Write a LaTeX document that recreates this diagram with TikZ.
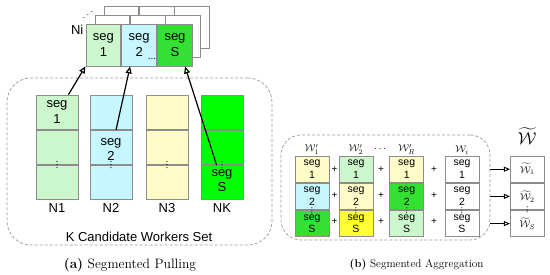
\documentclass[tikz,border=0pt]{standalone}
\usepackage{fontspec}
\setsansfont{Liberation Sans}
\usepackage{amsmath,amssymb}
\usetikzlibrary{positioning, calc, arrows.meta}

\definecolor{seglime}{HTML}{CCF7CC}
\definecolor{segcyan}{HTML}{C6F6FF}
\definecolor{segcream}{HTML}{FFFCC8}
\definecolor{seggreen}{HTML}{33E033}
\definecolor{segneon}{HTML}{00FF00}
\definecolor{segyellow}{HTML}{FFFF33}
\definecolor{cellgray}{HTML}{8C8C8C}

\tikzset{
  cell/.style={draw=cellgray, line width=0.9pt, inner sep=0pt, align=center,
    font=\sffamily\fontsize{13}{15.5}\selectfont},
  workcell/.style={cell, minimum width=42pt, minimum height=34.3pt},
  nicell/.style={cell, minimum width=34.9pt, minimum height=42pt},
  aggcell/.style={cell, minimum width=34pt, minimum height=26.3pt,
    font=\sffamily\fontsize{10.5}{12.5}\selectfont},
  celltext/.style={inner sep=0pt, align=center, font=\sffamily\fontsize{13}{15.5}\selectfont},
  vdotsmark/.style={inner sep=0pt, rotate=90, font=\sffamily\fontsize{10}{10}\selectfont},
  pull/.style={line width=1.2pt, -{Triangle[open, length=7pt, width=6pt]}},
  feed/.style={line width=0.9pt, -{Triangle[open, length=6pt, width=5pt]}},
  setbox/.style={draw=gray!80, dash pattern=on 3pt off 2pt, line width=0.7pt},
}

\begin{document}
\begin{tikzpicture}[x=1pt, y=-1pt]
    \useasboundingbox (0,0) rectangle (550,275);

    % Dashed set around the candidate workers
    \node[setbox, rounded corners=24pt, minimum width=265pt, minimum height=167pt] (workerset) at (139.5,161.5) {};

    % Stack of segmented models behind Ni
    \foreach \d in {18,9} {
        \foreach \x [count=\i] in {103.4,138.8,173.7}
            \node[nicell, fill=white] (back\d-\i) at (\x+\d,45-\d) {};
    }

    % Front model Ni with its segments
    \node[nicell, fill=seglime] (ni1) at (103.4,45) {seg\\1};
    \node[nicell, fill=segcyan, right=0pt of ni1] (ni2) {seg\\2};
    \node[nicell, fill=seggreen, right=0pt of ni2] (ni3) {seg\\S};
    \node[inner sep=0pt, font=\sffamily\fontsize{10}{10}\selectfont] (nidots) at (152,59) {...};
    \node[anchor=north east, inner sep=1pt, font=\sffamily\fontsize{13}{15}\selectfont] (nilabel) at ([xshift=-1pt]ni1.north west) {Ni};
    \node[inner sep=0pt] (stackdots) at (88,12) {\reflectbox{$\ddots$}};

    % Candidate workers N1 ... NK, three segments each
    \foreach \col/\x/\clr/\lbl in {n1/57/seglime/N1, n2/111/segcyan/N2, n3/167/segcream/N3, nk/222/segneon/NK} {
        \node[workcell, fill=\clr] (\col-a) at (\x,112.2) {};
        \node[workcell, fill=\clr, below=0pt of \col-a] (\col-b) {};
        \node[workcell, fill=\clr, below=0pt of \col-b] (\col-c) {};
        \node[below=2pt of \col-c, inner sep=1pt, font=\sffamily\fontsize{13}{15}\selectfont] (\col-lbl) {\lbl};
        \node[vdotsmark] (\col-dots) at (\col-c.north) {...};
    }
    \node[celltext] (n1text) at (n1-a) {seg\\1};
    \node[celltext] (n2text) at ([yshift=-2pt]n2-b) {seg\\2};
    \node[celltext] (nktext) at ([yshift=2pt]nk-c) {seg\\S};

    % Pulling the segments up into Ni
    \draw[pull] (n1-a.57) -- (ni1.230);
    \draw[pull] (n2-b.74) -- (ni2.247);
    \draw[pull] (nk-c.107) -- (ni3.295);

    \node[font=\sffamily\fontsize{13}{15}\selectfont] (setlabel) at (139,237) {K Candidate Workers Set};
    \node[font=\fontsize{13.6}{15}\selectfont] (capa) at (130,265) {\textbf{(a)} Segmented Pulling};

    % Dashed set around the models to aggregate
    \node[setbox, rounded corners=20pt, minimum width=209pt, minimum height=105pt] (aggset) at (385.5,187.5) {};

    % Models to aggregate, three segments each
    \foreach \col/\x/\ca/\cb/\cc/\lbl in {w1/312/segcream/segcyan/seggreen/{$\mathcal{W}'_1$},
            w2/356/seglime/segcream/segyellow/{$\mathcal{W}'_2$},
            wr/406.7/segcream/seggreen/seglime/{$\mathcal{W}'_R$},
            wi/462/white/white/white/{$\mathcal{W}_i$}} {
        \node[aggcell, fill=\ca] (\col-a) at (\x,169.2) {seg\\1};
        \node[aggcell, fill=\cb, below=0pt of \col-a] (\col-b) {seg\\2};
        \node[aggcell, fill=\cc, below=0pt of \col-b] (\col-c) {seg\\S};
        \node[vdotsmark, font=\sffamily\fontsize{9}{9}\selectfont] (\col-dots) at ([yshift=-1pt]\col-c.north) {...};
        \node[above=0pt of \col-a, inner sep=1pt, font=\fontsize{10}{12}\selectfont] (\col-lbl) {\lbl};
    }
    \node[font=\fontsize{10}{12}\selectfont] (wdots) at (381,149) {$\cdots$};

    % Plus signs between the columns
    \foreach \x [count=\i] in {334.5,381,434} {
        \foreach \y [count=\j] in {169.2,195.5,221.8}
            \node[inner sep=0pt, font=\sffamily\fontsize{10}{10}\selectfont] (plus\i-\j) at (\x,\y) {+};
    }

    % Aggregated model
    \node[aggcell, fill=white, font=\fontsize{10}{12}\selectfont] (wt-1) at (527.4,169.2) {$\widetilde{\mathcal{W}}_1$};
    \node[aggcell, fill=white, font=\fontsize{10}{12}\selectfont, below=0pt of wt-1] (wt-2) {$\widetilde{\mathcal{W}}_2$};
    \node[aggcell, fill=white, font=\fontsize{10}{12}\selectfont, below=0pt of wt-2] (wt-3) {$\widetilde{\mathcal{W}}_S$};
    \node[vdotsmark, font=\sffamily\fontsize{9}{9}\selectfont] (wt-dots) at (wt-3.north) {...};
    \node[inner sep=0pt, font=\fontsize{17}{20}\selectfont] (wtlabel) at (527,136) {$\widetilde{\mathcal{W}}$};

    % Segment-wise outputs
    \foreach \i in {1,2,3}
        \draw[feed] (aggset.east |- wt-\i) -- (wt-\i.west);

    \node[font=\fontsize{11.2}{13}\selectfont] (capb) at (416.5,265) {\textbf{(b)} Segmented Aggregation};

\end{tikzpicture}
\end{document}
